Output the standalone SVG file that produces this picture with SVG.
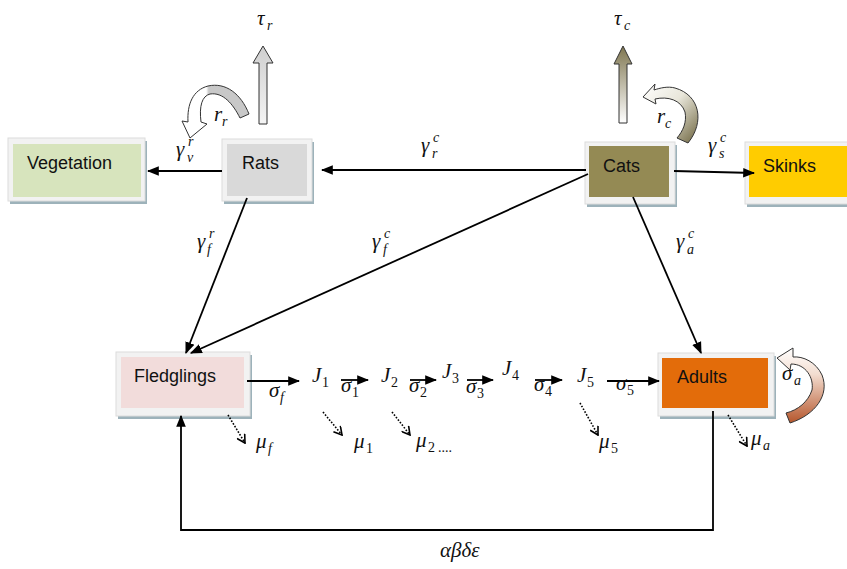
<svg xmlns="http://www.w3.org/2000/svg" width="847" height="569" viewBox="0 0 847 569">
<style>
.shadow{fill:#9db2ba}
.frame{fill:#f2f2f2;stroke:#dcdcdc;stroke-width:1}
.lbl{font-family:"Liberation Sans",Arial,sans-serif;font-size:18px;fill:#111}
.m{font-family:"Liberation Serif","DejaVu Serif",serif;font-style:italic;font-size:21px;fill:#111}
.s{font-family:"Liberation Serif","DejaVu Serif",serif;font-style:italic;font-size:14px;fill:#111}
.sn{font-family:"Liberation Serif","DejaVu Serif",serif;font-size:14px;fill:#111}
.c{fill:none;stroke:#000;stroke-width:1.8}
.d{fill:none;stroke:#000;stroke-width:1.6;stroke-dasharray:1.6 1.6}
</style>
<defs>
<marker id="ah2" viewBox="0 0 10 10" refX="9" refY="5" markerWidth="12" markerHeight="12" markerUnits="userSpaceOnUse" orient="auto">
<path d="M0,1 L10,5 L0,9 Z" fill="#000"/>
</marker>
<marker id="oh" viewBox="0 0 10 10" refX="9" refY="5" markerWidth="10" markerHeight="10" markerUnits="userSpaceOnUse" orient="auto">
<path d="M1,0.5 L9,5 L1,9.5" fill="none" stroke="#000" stroke-width="1.6"/>
</marker>
<linearGradient id="gTc" x1="0" y1="0" x2="0" y2="1">
<stop offset="0" stop-color="#7f7650"/><stop offset="1" stop-color="#ffffff"/>
</linearGradient>
<linearGradient id="gTr" x1="0" y1="0" x2="0" y2="1">
<stop offset="0" stop-color="#cfcfcf"/><stop offset="1" stop-color="#f4f4f4"/>
</linearGradient>
<linearGradient id="gRr" x1="0" y1="0" x2="1" y2="0">
<stop offset="0" stop-color="#ffffff"/><stop offset="0.36" stop-color="#ffffff"/><stop offset="0.40" stop-color="#c8c8c8"/><stop offset="1" stop-color="#c8c8c8"/>
</linearGradient>
<linearGradient id="gRc" x1="0" y1="0" x2="1" y2="1">
<stop offset="0" stop-color="#ffffff"/><stop offset="0.45" stop-color="#e8e6da"/><stop offset="1" stop-color="#6f6640"/>
</linearGradient>
<linearGradient id="gSa" x1="0" y1="0" x2="0" y2="1">
<stop offset="0" stop-color="#ffffff"/><stop offset="0.35" stop-color="#f3ddd0"/><stop offset="1" stop-color="#b5562c"/>
</linearGradient>
</defs>
<rect width="847" height="569" fill="#ffffff"/>

<g id="vegetation">
<rect class="shadow" x="10" y="141" width="137" height="63"/>
<rect class="frame" x="8" y="138" width="137" height="63"/>
<rect x="13" y="144" width="128" height="53" fill="#d7e4bd"/>
<text class="lbl" x="27" y="169">Vegetation</text>
</g>
<g id="rats">
<rect class="shadow" x="224" y="142" width="90" height="62"/>
<rect class="frame" x="222" y="139" width="90" height="62"/>
<rect x="227" y="144" width="80" height="52" fill="#d9d9d9"/>
<text class="lbl" x="242" y="169">Rats</text>
</g>
<g id="cats">
<rect class="shadow" x="587" y="145" width="90" height="62"/>
<rect class="frame" x="585" y="142" width="90" height="62"/>
<rect x="589" y="146" width="80" height="51" fill="#948a54"/>
<text class="lbl" x="603" y="172">Cats</text>
</g>
<g id="skinks">
<rect class="shadow" x="747" y="145" width="110" height="62"/>
<rect class="frame" x="745" y="142" width="110" height="62"/>
<rect x="749" y="146" width="110" height="51" fill="#ffcc00"/>
<text class="lbl" x="763" y="172">Skinks</text>
</g>
<g id="fledglings">
<rect class="shadow" x="118" y="355" width="134" height="64"/>
<rect class="frame" x="116" y="352" width="134" height="64"/>
<rect x="121" y="357" width="123" height="51" fill="#f2dcdb"/>
<text class="lbl" x="134" y="382">Fledglings</text>
</g>
<g id="adults">
<rect class="shadow" x="660" y="356" width="116" height="63"/>
<rect class="frame" x="658" y="353" width="116" height="63"/>
<rect x="662" y="358" width="106" height="50" fill="#e36c0a"/>
<text class="lbl" x="677" y="383">Adults</text>
</g>

<g id="connectors">
<line class="c" x1="222" y1="171" x2="148" y2="171" marker-end="url(#ah2)"/>
<line class="c" x1="586" y1="170" x2="322" y2="170" marker-end="url(#ah2)"/>
<line class="c" x1="674" y1="171" x2="754" y2="173" marker-end="url(#ah2)"/>
<line class="c" x1="247" y1="198" x2="186" y2="353" marker-end="url(#ah2)"/>
<line class="c" x1="588" y1="174" x2="191" y2="353" marker-end="url(#ah2)"/>
<line class="c" x1="633" y1="197" x2="701" y2="353" marker-end="url(#ah2)"/>
<line class="c" x1="247" y1="381" x2="299" y2="381" marker-end="url(#ah2)"/>
<line class="c" x1="341" y1="380" x2="368" y2="380" marker-end="url(#ah2)"/>
<line class="c" x1="410" y1="380" x2="436" y2="380" marker-end="url(#ah2)"/>
<line class="c" x1="467" y1="380" x2="493" y2="380" marker-end="url(#ah2)"/>
<line class="c" x1="535" y1="380" x2="562" y2="380" marker-end="url(#ah2)"/>
<line class="c" x1="607" y1="381" x2="659" y2="381" marker-end="url(#ah2)"/>
<polyline class="c" points="713,411 713,530 181,530 181,416" marker-end="url(#ah2)"/>
<line class="d" x1="228" y1="415" x2="245" y2="443" marker-end="url(#oh)"/>
<line class="d" x1="323" y1="412" x2="342" y2="435" marker-end="url(#oh)"/>
<line class="d" x1="392" y1="412" x2="410" y2="435" marker-end="url(#oh)"/>
<line class="d" x1="580" y1="403" x2="598" y2="435" marker-end="url(#oh)"/>
<line class="d" x1="728" y1="415" x2="747" y2="446" marker-end="url(#oh)"/>
</g>

<g id="block-arrows">
<path d="M259,124 L259,63 L253,63 L263,46 L273,63 L267,63 L267,124 Z" fill="url(#gTr)" stroke="#333" stroke-width="1"/>
<path d="M619,123 L619,64 L614,64 L623,46 L632,64 L627,64 L627,123 Z" fill="url(#gTc)" stroke="#333" stroke-width="1"/>
<path d="M249,114 C241,94 226,82 208,86 C193,90 187,104 188,122 L182,121 L190,138 L207,124 L201,122 C199,106 202,96 210,94 C223,92 233,104 240,118 Z" fill="url(#gRr)" stroke="#333" stroke-width="1"/>
<path d="M688,143 C705,122 700,95 675,88 C668,86 660,88 654,90 L655,84 L643,97 L656,104 L655,99 C668,96 681,100 685,112 C687,122 683,131 677,138 Z" fill="url(#gRc)" stroke="#333" stroke-width="1"/>
<path d="M786,413 L790,423 C815,415 830,395 822,375 C816,362 803,356 793,357 L793,348 L777,358 L790,370 L791,364 C806,364 814,378 812,390 C808,402 798,410 786,413 Z" fill="url(#gSa)" stroke="#333" stroke-width="1"/>
</g>

<g id="labels">
<text class="m" x="257" y="25">τ</text><text class="s" x="267" y="30">r</text>
<text class="m" x="614" y="25">τ</text><text class="s" x="624" y="30">c</text>
<text class="m" x="214" y="121">r</text><text class="s" x="222" y="126">r</text>
<text class="m" x="657" y="123">r</text><text class="s" x="665" y="128">c</text>
<text class="m" x="176" y="156">γ</text><text class="s" x="188" y="146">r</text><text class="s" x="187" y="162">v</text>
<text class="m" x="421" y="152">γ</text><text class="s" x="433" y="142">c</text><text class="s" x="432" y="158">r</text>
<text class="m" x="708" y="152">γ</text><text class="s" x="720" y="142">c</text><text class="s" x="719" y="158">s</text>
<text class="m" x="197" y="248">γ</text><text class="s" x="209" y="238">r</text><text class="s" x="207" y="254">f</text>
<text class="m" x="372" y="248">γ</text><text class="s" x="384" y="238">c</text><text class="s" x="383" y="254">f</text>
<text class="m" x="676" y="248">γ</text><text class="s" x="688" y="238">c</text><text class="s" x="687" y="254">a</text>
<text class="m" x="269" y="397">σ</text><text class="s" x="280" y="402">f</text>
<text class="m" x="312" y="382">J</text><text class="sn" x="322" y="387">1</text>
<text class="m" x="341" y="392">σ</text><text class="sn" x="352" y="397">1</text>
<text class="m" x="381" y="382">J</text><text class="sn" x="391" y="387">2</text>
<text class="m" x="409" y="392">σ</text><text class="sn" x="420" y="397">2</text>
<text class="m" x="442" y="378">J</text><text class="sn" x="452" y="383">3</text>
<text class="m" x="466" y="393">σ</text><text class="sn" x="477" y="398">3</text>
<text class="m" x="502" y="375">J</text><text class="sn" x="512" y="380">4</text>
<text class="m" x="534" y="391">σ</text><text class="sn" x="545" y="396">4</text>
<text class="m" x="577" y="382">J</text><text class="sn" x="587" y="387">5</text>
<text class="m" x="616" y="390">σ</text><text class="sn" x="627" y="395">5</text>
<text class="m" x="256" y="448">μ</text><text class="s" x="268" y="453">f</text>
<text class="m" x="354" y="448">μ</text><text class="sn" x="366" y="453">1</text>
<text class="m" x="416" y="447">μ</text><text class="sn" x="428" y="452">2</text><text class="sn" x="438" y="452">....</text>
<text class="m" x="599" y="448">μ</text><text class="sn" x="611" y="453">5</text>
<text class="m" x="751" y="445">μ</text><text class="s" x="763" y="450">a</text>
<text class="m" x="782" y="380">σ</text><text class="s" x="794" y="385">a</text>
<text class="m" x="440" y="557">αβδε</text>
</g>
</svg>
